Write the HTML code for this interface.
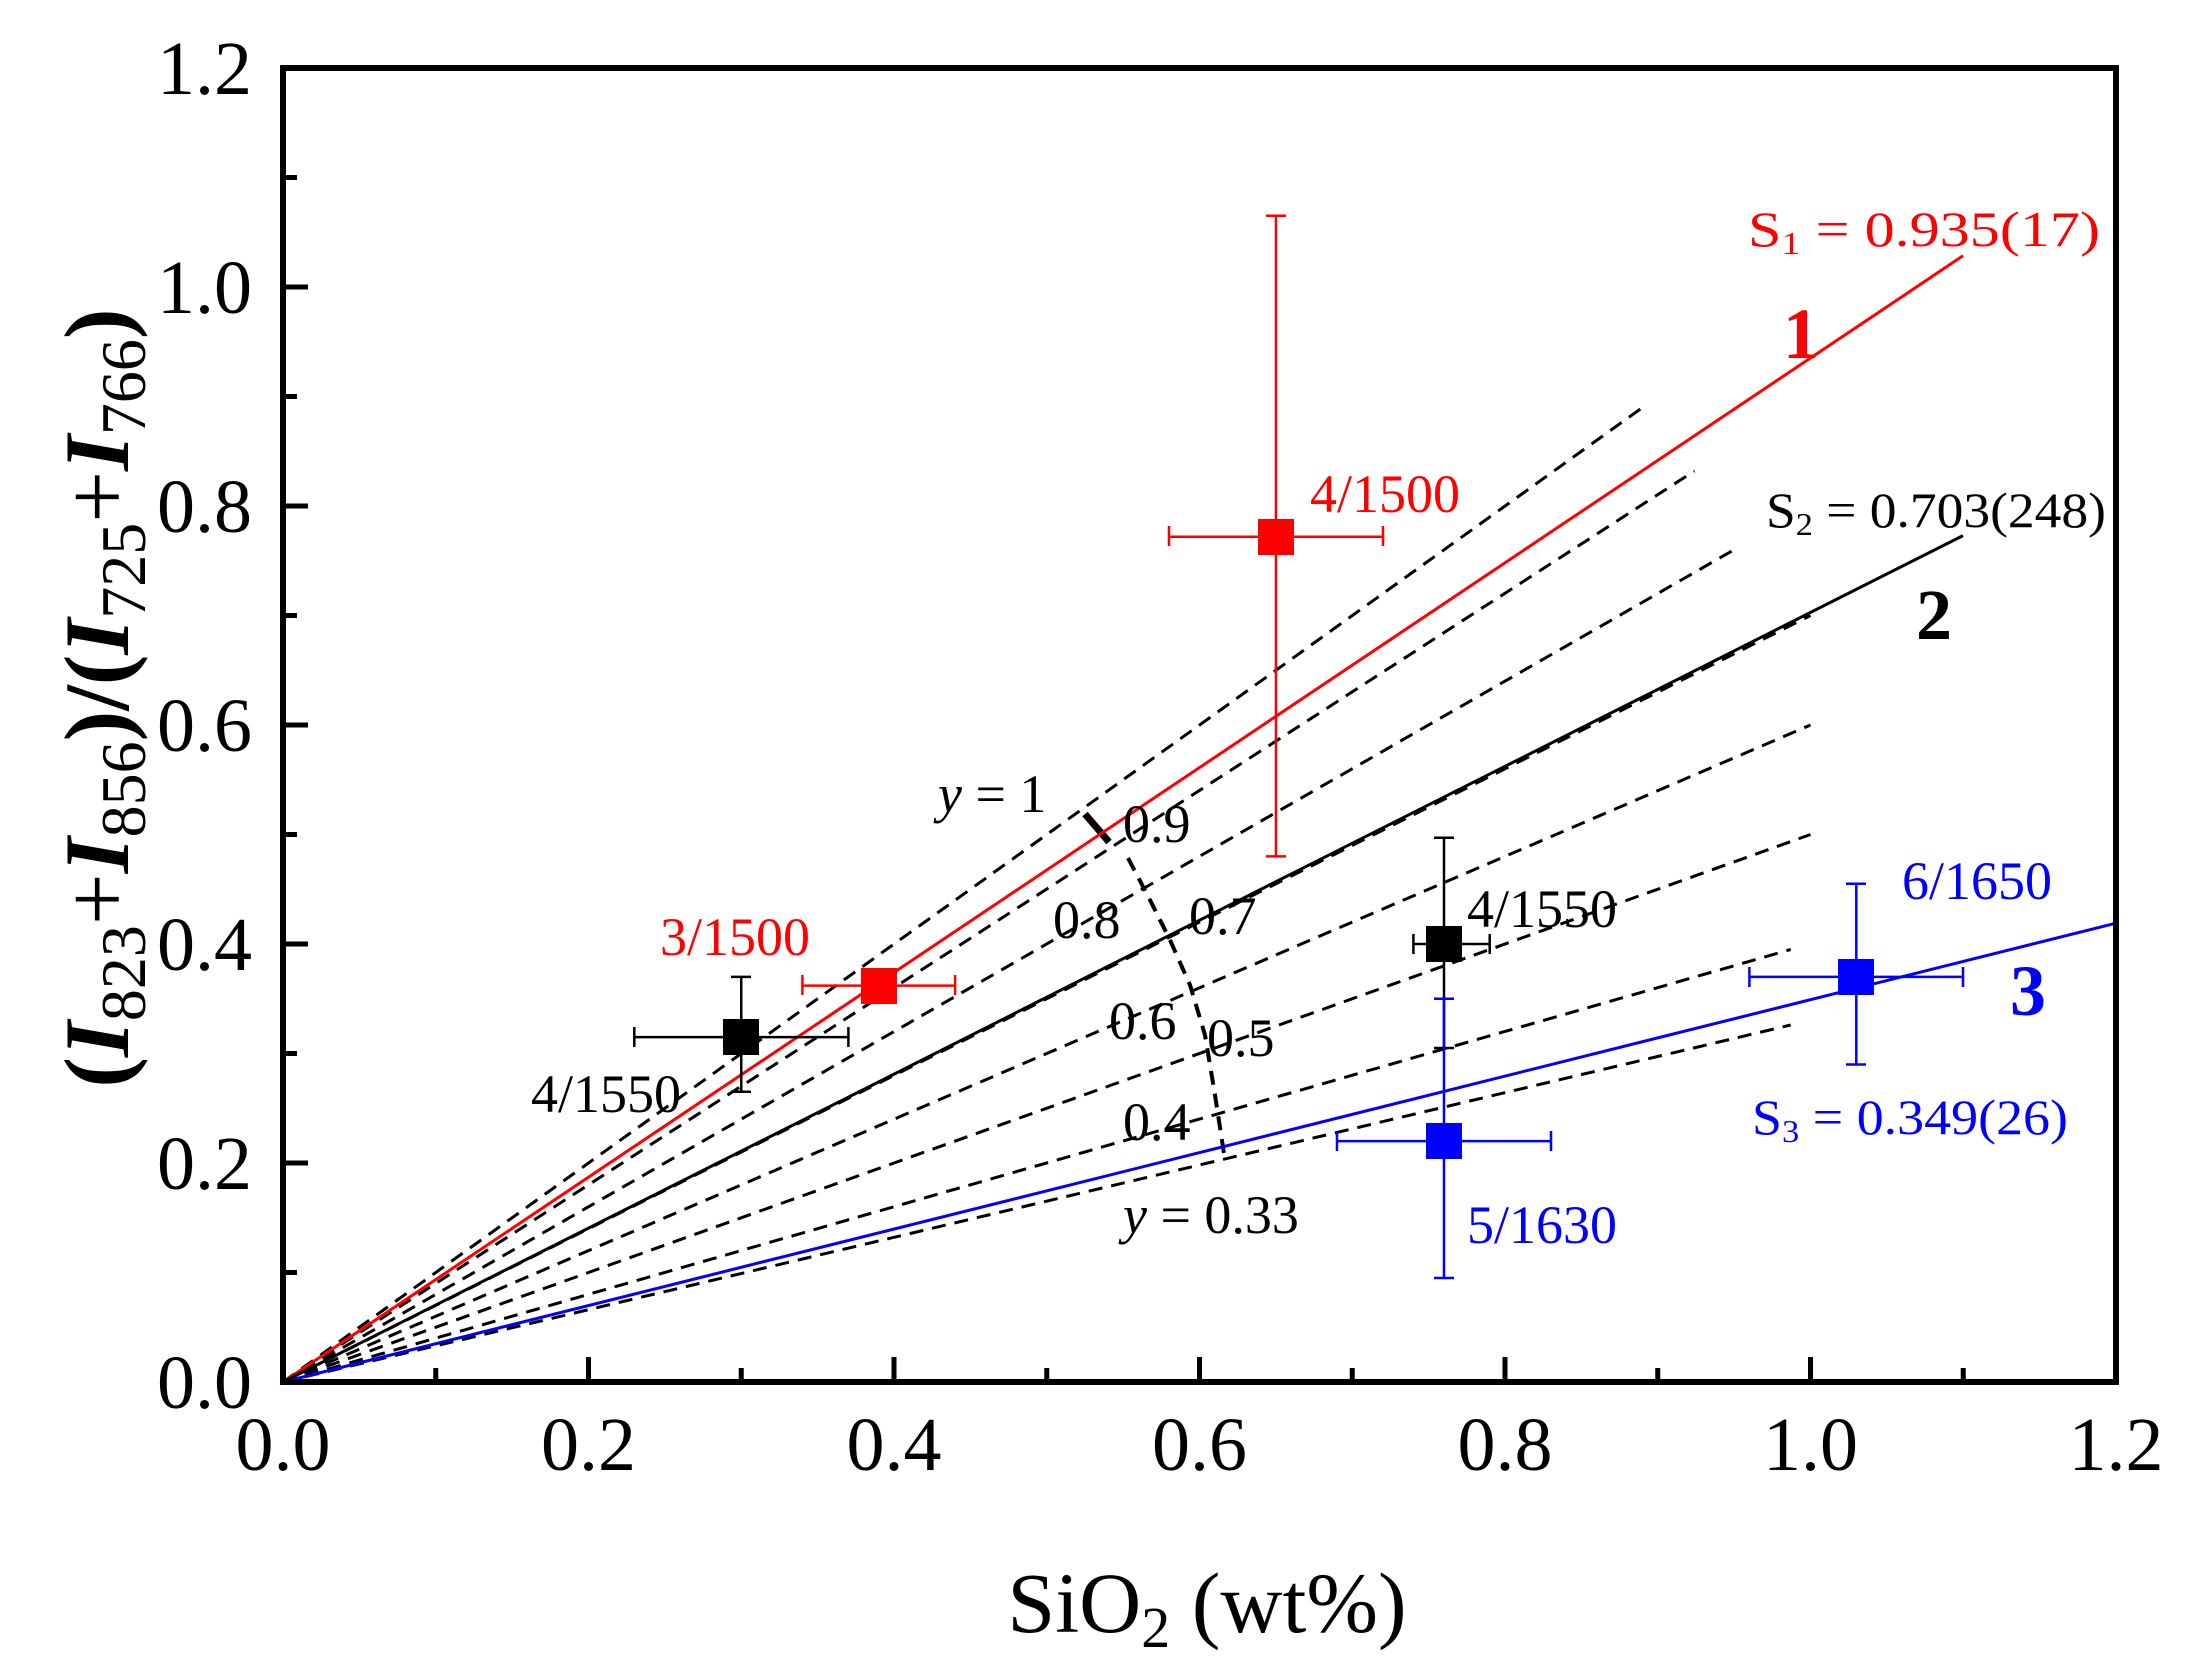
<!DOCTYPE html>
<html><head><meta charset="utf-8"><style>
html,body{margin:0;padding:0;background:#fff;}
svg{display:block;}
text{font-family:"Liberation Serif",serif;}
</style></head><body>
<svg width="2190" height="1673" viewBox="0 0 2190 1673" xmlns="http://www.w3.org/2000/svg">
<rect width="2190" height="1673" fill="#fff"/>
<g stroke="#000" stroke-width="3" stroke-dasharray="14,9" fill="none">
<line x1="283" y1="1382" x2="1642.5" y2="407.5"/>
<line x1="283" y1="1382" x2="1694.4" y2="471"/>
<line x1="283" y1="1382" x2="1734" y2="549.8"/>
<line x1="283" y1="1382" x2="1810.5" y2="615.5"/>
<line x1="283" y1="1382" x2="1810.5" y2="725"/>
<line x1="283" y1="1382" x2="1810.5" y2="834.5"/>
<line x1="283" y1="1382" x2="1790.7" y2="949.5"/>
<line x1="283" y1="1382" x2="1790.7" y2="1025"/>
<polyline points="1128,858 1150,900 1170,940 1190,985 1205,1035 1215,1095 1225,1160" stroke-width="4"/>
</g>
<line x1="1085" y1="814" x2="1109" y2="842" stroke="#000" stroke-width="7"/>
<line x1="283" y1="1382" x2="1963" y2="255.8" stroke="#f00" stroke-width="3"/>
<line x1="283" y1="1382" x2="1963" y2="535.6" stroke="#000" stroke-width="3"/>
<line x1="283" y1="1382" x2="2116" y2="923.2" stroke="#00f" stroke-width="3"/>
<g stroke-width="2.5" fill="none">
<g stroke="#000">
<path d="M634.3 1037.1H848.4M634.3 1027v20M848.4 1027v20M741.25 976.9V1091.8M731 976.9h20M731 1091.8h20"/>
<path d="M1413.4 944H1489.7M1413.4 934v20M1489.7 934v20M1444 837.8V1048M1434 837.8h20M1434 1048h20"/>
</g>
<g stroke="#f00">
<path d="M802.4 985.6H955.1M802.4 975v20M955.1 975v20"/>
<path d="M1169 536.7H1383M1169 526v20M1383 526v20M1276 215.8V856.4M1266 215.8h20M1266 856.4h20"/>
</g>
<g stroke="#00f">
<path d="M1337 1141.1H1551M1337 1131v20M1551 1131v20M1444 998.8V1278M1434 998.8h20M1434 1278h20"/>
<path d="M1749.4 976.9H1963M1749.4 967v20M1963 967v20M1856.3 883.8V1064.5M1846 883.8h20M1846 1064.5h20"/>
</g>
</g>
<rect x="723" y="1019" width="36" height="36" fill="#000"/>
<rect x="1426" y="926" width="36" height="36" fill="#000"/>
<rect x="861" y="968" width="36" height="36" fill="#f00"/>
<rect x="1258" y="519" width="36" height="36" fill="#f00"/>
<rect x="1426" y="1123" width="36" height="36" fill="#00f"/>
<rect x="1838" y="959" width="36" height="36" fill="#00f"/>
<rect x="283" y="68" width="1833" height="1314" fill="none" stroke="#000" stroke-width="6"/>
<g stroke="#000" stroke-width="5">
<path d="M435.75 1382v-14M588.5 1382v-25M741.25 1382v-14M894 1382v-25M1046.75 1382v-14M1199.5 1382v-25M1352.25 1382v-14M1505 1382v-25M1657.75 1382v-14M1810.5 1382v-25M1963.25 1382v-14"/>
<path d="M283 1272.5h14M283 1163h25M283 1053.5h14M283 944h25M283 834.5h14M283 725h25M283 615.5h14M283 506h25M283 396.5h14M283 287h25M283 177.5h14"/>
</g>
<g font-size="76" text-anchor="end" fill="#000">
<text x="252" y="1408">0.0</text>
<text x="252" y="1189">0.2</text>
<text x="252" y="970">0.4</text>
<text x="252" y="751">0.6</text>
<text x="252" y="532">0.8</text>
<text x="252" y="313">1.0</text>
<text x="252" y="94">1.2</text>
</g>
<g font-size="76" text-anchor="middle" fill="#000">
<text x="283" y="1470">0.0</text>
<text x="588.5" y="1470">0.2</text>
<text x="894" y="1470">0.4</text>
<text x="1199.5" y="1470">0.6</text>
<text x="1505" y="1470">0.8</text>
<text x="1810.5" y="1470">1.0</text>
<text x="2116" y="1470">1.2</text>
</g>
<text x="1207" y="1632" font-size="86" text-anchor="middle">SiO<tspan font-size="58" dy="15">2</tspan><tspan dy="-15"> (wt%)</tspan></text>
<text transform="translate(128,698) rotate(-90)" font-size="92" font-weight="bold" text-anchor="middle">(<tspan font-style="italic">I</tspan><tspan font-size="64" font-weight="normal" dy="17">823</tspan><tspan dy="-17" font-weight="normal">+</tspan><tspan font-style="italic">I</tspan><tspan font-size="64" font-weight="normal" dy="17">856</tspan><tspan dy="-17">)/(</tspan><tspan font-style="italic">I</tspan><tspan font-size="64" font-weight="normal" dy="17">725</tspan><tspan dy="-17" font-weight="normal">+</tspan><tspan font-style="italic">I</tspan><tspan font-size="64" font-weight="normal" dy="17">766</tspan><tspan dy="-17">)</tspan></text>
<g font-size="50">
<text x="1748" y="246" fill="#f00" textLength="352" lengthAdjust="spacingAndGlyphs">S<tspan font-size="32" dy="8">1</tspan><tspan dy="-8"> = 0.935(17)</tspan></text>
<text x="1766" y="527" fill="#000" textLength="340" lengthAdjust="spacingAndGlyphs">S<tspan font-size="32" dy="8">2</tspan><tspan dy="-8"> = 0.703(248)</tspan></text>
<text x="1752" y="1134" fill="#00f" textLength="316" lengthAdjust="spacingAndGlyphs">S<tspan font-size="32" dy="8">3</tspan><tspan dy="-8"> = 0.349(26)</tspan></text>
</g>
<g font-size="72" font-weight="bold">
<text x="1783" y="358" fill="#f00">1</text>
<text x="1916" y="639" fill="#000">2</text>
<text x="2010" y="1015" fill="#00f">3</text>
</g>
<g font-size="54">
<text x="1902" y="899" fill="#00f">6/1650</text>
<text x="1467" y="1243" fill="#00f">5/1630</text>
<text x="1467" y="927" fill="#000">4/1550</text>
<text x="531" y="1112" fill="#000">4/1550</text>
<text x="660" y="955" fill="#f00">3/1500</text>
<text x="1310" y="512" fill="#f00">4/1500</text>
<text x="938" y="812"><tspan font-style="italic">y</tspan> = 1</text>
<text x="1123" y="842">0.9</text>
<text x="1053" y="938">0.8</text>
<text x="1189" y="934">0.7</text>
<text x="1109" y="1039">0.6</text>
<text x="1207" y="1056">0.5</text>
<text x="1123" y="1140">0.4</text>
<text x="1123" y="1233"><tspan font-style="italic">y</tspan> = 0.33</text>
</g>
</svg>
</body></html>
